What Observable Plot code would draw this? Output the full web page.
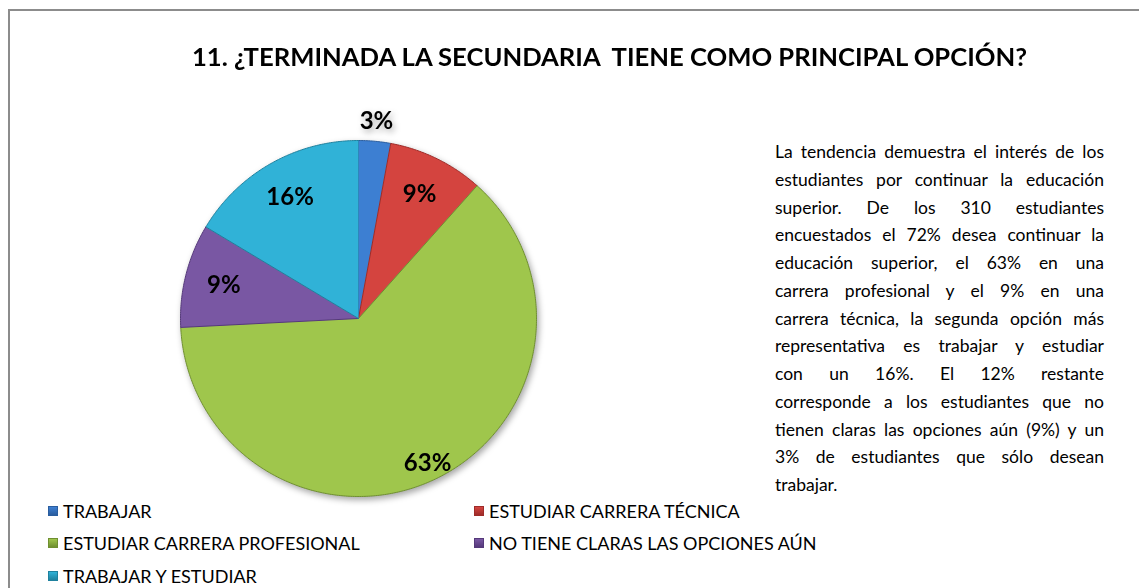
<!DOCTYPE html>
<html>
<head>
<meta charset="utf-8">
<script src="https://cdn.jsdelivr.net/npm/d3@7"></script>
<script src="https://cdn.jsdelivr.net/npm/@observablehq/plot@0.6"></script>
<style>
  html, body { margin:0; padding:0; background:#fff; }
  body { width:1139px; height:588px; overflow:hidden; position:relative; font-family: Lato, "Open Sans", sans-serif; color:#000; }
  #frame { position:absolute; left:8px; top:9px; width:1300px; height:800px; border:2px solid #8c8c8c; box-sizing:border-box; }
  #title { position:absolute; left:192px; top:40px; white-space:nowrap; font-weight:bold; font-size:24px; line-height:34px; transform-origin:0 50%; }
  #pie { position:absolute; left:158px; top:118px; }
  #desc { position:absolute; left:775px; top:138px; width:329px; font-size:17.5px; }
  #desc div { height:27.75px; line-height:27.75px; text-align:justify; text-align-last:justify; white-space:nowrap; }
  #desc div.last { text-align-last:left; }
  .leg { position:absolute; font-size:18px; line-height:20px; white-space:nowrap; }
  .leg span.m { position:absolute; left:-15px; top:5px; width:10px; height:10px; box-sizing:border-box; }
</style>
</head>
<body>
<div id="frame"></div>
<div id="title">11. ¿TERMINADA LA SECUNDARIA&nbsp; TIENE COMO PRINCIPAL OPCIÓN?</div>
<div id="pie"></div>
<div id="desc"></div>
<div id="legend"></div>
<script>
// ---- data ----
const categories = ["TRABAJAR", "ESTUDIAR CARRERA TÉCNICA", "ESTUDIAR CARRERA PROFESIONAL", "NO TIENE CLARAS LAS OPCIONES AÚN", "TRABAJAR Y ESTUDIAR"];
const values = [2.9, 8.7, 62.6, 9.4, 16.4];
const labels = ["3%", "9%", "63%", "9%", "16%"];
const colors = ["#3d7fd2", "#d4443f", "#9fc64c", "#7957a3", "#30b2d7"];
const edgeColors = ["#2a5d9e", "#9e2c29", "#6f8f30", "#55397a", "#1f819e"];
const descLines = [
  "La tendencia demuestra el interés de los",
  "estudiantes por continuar la educación",
  "superior. De los 310 estudiantes",
  "encuestados el 72% desea continuar la",
  "educación superior, el 63% en una",
  "carrera profesional y el 9% en una",
  "carrera técnica,  la segunda opción más",
  "representativa es  trabajar y estudiar",
  "con un 16%. El 12% restante",
  "corresponde a los estudiantes que no",
  "tienen claras las opciones  aún  (9%) y un",
  "3%  de estudiantes que sólo desean",
  "trabajar."
];

// ---- pie geometry from data ----
const arcs = d3.pie().sort(null).value(d => d)(values);
const rows = [];
arcs.forEach((a, i) => {
  const n = Math.max(4, Math.ceil((a.endAngle - a.startAngle) / 0.01));
  rows.push({name: categories[i], x: 0, y: 0});
  for (let k = 0; k <= n; k++) {
    const t = a.startAngle + (a.endAngle - a.startAngle) * k / n;
    rows.push({name: categories[i], x: Math.sin(t), y: Math.cos(t)});
  }
});
const labelRows = arcs.map((a, i) => {
  const mid = (a.startAngle + a.endAngle) / 2;
  const share = values[i];
  const r = share < 5 ? 1.11 : share > 50 ? 0.9 : 0.78;
  return {label: labels[i], x: r * Math.sin(mid), y: r * Math.cos(mid)};
});

const size = 400, radiusPx = 178, D = size / 2 / radiusPx;
const chart = Plot.plot({
  width: size, height: size, margin: 0,
  x: {domain: [-D, D], axis: null},
  y: {domain: [-D, D], axis: null},
  color: {domain: categories, range: colors},
  marks: [
    Plot.line(rows, {x: "x", y: "y", z: "name", fill: "name", stroke: (d) => edgeColors[categories.indexOf(d.name)], strokeWidth: 1, strokeLinejoin: "round", curve: "linear"}),
    Plot.text(labelRows, {x: "x", y: "y", text: "label", fontSize: 24, fontWeight: "bold", fill: "#000", fontFamily: "Lato, sans-serif"})
  ]
});
chart.style.filter = "drop-shadow(2px 3px 3px rgba(0,0,0,0.35))";
chart.style.overflow = "visible";
document.getElementById("pie").appendChild(chart);

// ---- description ----
const desc = document.getElementById("desc");
descLines.forEach((t, i) => {
  const d = document.createElement("div");
  d.textContent = t;
  if (i === descLines.length - 1) d.className = "last";
  desc.appendChild(d);
});

// ---- legend ----
const legendPos = [[63, 501], [489, 501], [63, 533], [489, 533], [63, 566]];
const legend = document.getElementById("legend");
categories.forEach((c, i) => {
  const el = document.createElement("div");
  el.className = "leg";
  el.style.left = legendPos[i][0] + "px";
  el.style.top = legendPos[i][1] + "px";
  const m = document.createElement("span");
  m.className = "m";
  m.style.background = `linear-gradient(180deg, ${colors[i]} 0%, ${edgeColors[i]} 100%)`;
  m.style.border = `1px solid ${edgeColors[i]}`;
  el.appendChild(m);
  el.appendChild(document.createTextNode(c));
  legend.appendChild(el);
});

// fit title width to reference span
const title = document.getElementById("title");
const w = title.getBoundingClientRect().width;
title.style.transform = `scaleX(${835 / w})`;
</script>
</body>
</html>
